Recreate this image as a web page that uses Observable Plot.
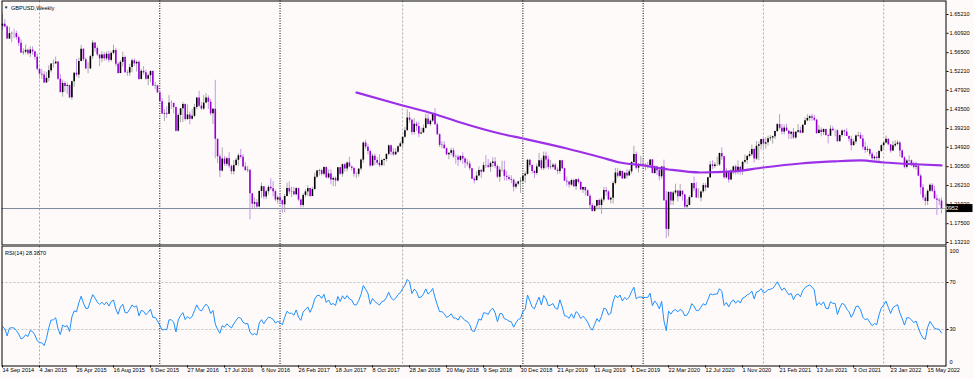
<!DOCTYPE html>
<html>
<head>
<meta charset="utf-8">
<script src="https://cdn.jsdelivr.net/npm/d3@7"></script>
<script src="https://cdn.jsdelivr.net/npm/@observablehq/plot@0.6"></script>
<style>
html,body{margin:0;padding:0;background:#fffafa;}
#chart{position:relative;width:974px;height:379px;overflow:hidden;background:#fffafa;}
#price{position:absolute;left:0;top:0;}
#rsi{position:absolute;left:0;top:245px;}
svg{display:block;}
</style>
</head>
<body>
<div id="chart"><div id="price"></div><div id="rsi"></div></div>
<script>
// ---------- texts ----------
const symbolTitle = "GBPUSD,Weekly";
const rsiTitle = "RSI(14) 28.3870";
const firstWeek = "2014-09-14";

// ---------- weekly closes before the visible range (RSI warm-up only) ----------
const preCloses = [1.6720,1.6630,1.6490,1.6635,1.6580,1.6745,1.6790,1.6810,1.6885,1.6825,1.6820,1.6835,1.6745,1.6795,1.6970,1.7015,1.7035,1.7155,1.7105,1.7085,1.6985,1.6835,1.6790,1.6695,1.6565,1.6600,1.6320,1.6255];

// ---------- weekly closes, 14 Sep 2014 ... 26 Jun 2022 ----------
const closes = [
1.6300,1.6236,1.5960,1.6085,1.6090,1.6085,1.5995,1.5865,1.5645,1.5660,
1.5705,1.5625,1.5710,1.5670,1.5545,1.5270,1.5160,1.5140,1.4960,1.5065,
1.5240,1.5390,1.5395,1.5435,1.5045,1.4740,1.4950,1.4880,1.4900,1.4620,
1.4990,1.5180,1.5140,1.5450,1.5730,1.5490,1.5280,1.5280,1.5560,1.5870,
1.5745,1.5600,1.5510,1.5600,1.5510,1.5615,1.5475,1.5635,1.5700,1.5385,
1.5175,1.5430,1.5540,1.5195,1.5185,1.5310,1.5465,1.5395,1.5430,1.5040,
1.5225,1.5190,1.5045,1.5125,1.5220,1.4890,1.4895,1.4735,1.4530,1.4250,
1.4265,1.4245,1.4500,1.4495,1.4400,1.3860,1.4220,1.4370,1.4470,1.4125,
1.4230,1.4130,1.4200,1.4400,1.4615,1.4430,1.4365,1.4500,1.4615,1.4520,
1.4255,1.4360,1.3675,1.3275,1.2950,1.3225,1.3105,1.3230,1.3060,1.2935,
1.3075,1.3195,1.3300,1.3265,1.3045,1.2960,1.2970,1.2430,1.2195,1.2230,
1.2130,1.2485,1.2595,1.2360,1.2480,1.2580,1.2545,1.2480,1.2290,1.2340,
1.2275,1.2180,1.2370,1.2555,1.2475,1.2480,1.2410,1.2550,1.2290,1.2165,
1.2395,1.2475,1.2550,1.2370,1.2530,1.2810,1.2950,1.2960,1.2875,1.3030,
1.2795,1.2885,1.2745,1.2780,1.2725,1.3025,1.2880,1.3095,1.3000,1.3135,
1.3040,1.3010,1.2875,1.2875,1.2995,1.3200,1.3590,1.3495,1.3395,1.3065,
1.3290,1.3190,1.3130,1.3075,1.3190,1.3215,1.3330,1.3525,1.3380,1.3320,
1.3380,1.3505,1.3570,1.3720,1.3870,1.4160,1.4110,1.3830,1.4020,1.3965,
1.3795,1.3820,1.3925,1.4140,1.4010,1.4090,1.4240,1.4005,1.3780,1.3535,
1.3540,1.3460,1.3320,1.3355,1.3415,1.3270,1.3265,1.3195,1.3285,1.3225,
1.3135,1.3110,1.3005,1.2765,1.2730,1.2835,1.2965,1.2925,1.3075,1.3070,
1.3035,1.3120,1.3155,1.3055,1.2810,1.2970,1.2970,1.2830,1.2805,1.2760,
1.2740,1.2580,1.2650,1.2705,1.2720,1.2840,1.2875,1.3195,1.3075,1.2940,
1.2895,1.3045,1.3185,1.3005,1.3290,1.3205,1.3030,1.3040,1.3085,1.2970,
1.2940,1.3185,1.3005,1.2720,1.2700,1.2630,1.2735,1.2590,1.2750,1.2690,
1.2520,1.2575,1.2500,1.2375,1.2165,1.2030,1.2145,1.2280,1.2165,1.2290,
1.2505,1.2475,1.2290,1.2330,1.2665,1.2905,1.2830,1.2940,1.2770,1.2900,
1.2840,1.2935,1.3145,1.3330,1.3015,1.3075,1.3085,1.3065,1.3075,1.3075,
1.3205,1.2895,1.3045,1.2960,1.2820,1.3045,1.2275,1.1620,1.2460,1.2265,
1.2450,1.2495,1.2365,1.2490,1.2405,1.2130,1.2165,1.2345,1.2665,1.2545,
1.2335,1.2335,1.2475,1.2620,1.2565,1.2795,1.3090,1.3055,1.3090,1.3090,
1.3350,1.3275,1.2795,1.2920,1.2745,1.2945,1.3045,1.2920,1.3035,1.2945,
1.3150,1.3190,1.3285,1.3325,1.3440,1.3225,1.3515,1.3550,1.3670,1.3565,
1.3595,1.3685,1.3705,1.3735,1.3850,1.4010,1.3925,1.3840,1.3930,1.3860,
1.3790,1.3835,1.3705,1.3835,1.3870,1.3815,1.3995,1.4095,1.4150,1.4190,
1.4155,1.4110,1.3805,1.3880,1.3830,1.3900,1.3760,1.3745,1.3905,1.3870,
1.3870,1.3620,1.3760,1.3865,1.3840,1.3740,1.3675,1.3530,1.3615,1.3750,
1.3760,1.3680,1.3495,1.3420,1.3440,1.3335,1.3230,1.3265,1.3235,1.3395,
1.3530,1.3590,1.3675,1.3550,1.3405,1.3525,1.3560,1.3590,1.3405,1.3250,
1.3035,1.3180,1.3185,1.3115,1.3035,1.3060,1.2835,1.2570,1.2335,1.2255,
1.2490,1.2625,1.2490,1.2315,1.2285,1.2265,1.20952];

const highs = [
1.6525,1.6400,1.6270,1.6230,1.6120,1.6185,1.6140,1.6030,1.5945,1.5740,
1.5825,1.5730,1.5785,1.5785,1.5680,1.5620,1.5300,1.5270,1.5220,1.5200,
1.5350,1.5400,1.5485,1.5550,1.5445,1.5160,1.5025,1.4990,1.4955,1.4915,
1.5000,1.5200,1.5500,1.5525,1.5815,1.5735,1.5530,1.5420,1.5590,1.5930,
1.5880,1.5790,1.5600,1.5675,1.5650,1.5670,1.5690,1.5670,1.5820,1.5750,
1.5420,1.5470,1.5660,1.5575,1.5245,1.5385,1.5505,1.5510,1.5465,1.5460,
1.5270,1.5335,1.5250,1.5160,1.5240,1.5240,1.4970,1.4905,1.4760,1.4610,
1.4350,1.4415,1.4670,1.4560,1.4500,1.4410,1.4255,1.4380,1.4515,1.4475,
1.4460,1.4300,1.4350,1.4470,1.4630,1.4770,1.4520,1.4670,1.4715,1.4665,
1.4590,1.4375,1.5020,1.3680,1.3330,1.3480,1.3285,1.3265,1.3370,1.3085,
1.3190,1.3240,1.3345,1.3445,1.3325,1.3140,1.3055,1.2975,1.2440,1.2335,
1.2300,1.2510,1.2675,1.2600,1.2520,1.2615,1.2775,1.2705,1.2515,1.2375,
1.2430,1.2290,1.2415,1.2675,1.2705,1.2580,1.2580,1.2570,1.2560,1.2310,
1.2435,1.2525,1.2615,1.2560,1.2580,1.2905,1.2965,1.2990,1.2990,1.3050,
1.3045,1.2975,1.2980,1.2815,1.2815,1.3030,1.3030,1.3115,1.3125,1.3160,
1.3265,1.3070,1.3040,1.2920,1.3000,1.3225,1.3615,1.3655,1.3550,1.3425,
1.3340,1.3335,1.3255,1.3320,1.3225,1.3230,1.3345,1.3550,1.3540,1.3460,
1.3460,1.3525,1.3615,1.3745,1.3945,1.4345,1.4285,1.4130,1.4145,1.4070,
1.4065,1.3930,1.4000,1.4245,1.4245,1.4120,1.4265,1.4375,1.4050,1.3800,
1.3620,1.3620,1.3480,1.3360,1.3470,1.3470,1.3315,1.3315,1.3290,1.3365,
1.3260,1.3215,1.3175,1.3010,1.2810,1.2935,1.3045,1.2985,1.3145,1.3300,
1.3215,1.3160,1.3255,1.3255,1.3090,1.3040,1.3175,1.3175,1.2935,1.2850,
1.2840,1.2770,1.2700,1.2715,1.2800,1.2865,1.2930,1.3220,1.3215,1.3095,
1.2965,1.3110,1.3350,1.3240,1.3380,1.3385,1.3290,1.3195,1.3125,1.3125,
1.3025,1.3195,1.3195,1.3020,1.2815,1.2715,1.2765,1.2765,1.2760,1.2785,
1.2720,1.2585,1.2580,1.2525,1.2415,1.2210,1.2160,1.2285,1.2310,1.2340,
1.2580,1.2580,1.2500,1.2360,1.2710,1.3010,1.3010,1.2975,1.2950,1.2920,
1.2985,1.2985,1.3165,1.3515,1.3385,1.3120,1.3285,1.3215,1.3120,1.3150,
1.3210,1.3215,1.3070,1.3065,1.3000,1.3050,1.3200,1.2485,1.2485,1.2485,
1.2485,1.2650,1.2510,1.2645,1.2500,1.2410,1.2295,1.2385,1.2670,1.2815,
1.2690,1.2545,1.2500,1.2670,1.2665,1.2810,1.3170,1.3185,1.3145,1.3265,
1.3365,1.3480,1.3285,1.3005,1.2950,1.2980,1.3065,1.3085,1.3180,1.3060,
1.3175,1.3315,1.3310,1.3400,1.3540,1.3470,1.3625,1.3615,1.3675,1.3705,
1.3710,1.3745,1.3760,1.3745,1.3865,1.4035,1.4240,1.4015,1.4000,1.4015,
1.3885,1.3850,1.3920,1.3850,1.4010,1.3950,1.4005,1.4165,1.4235,1.4220,
1.4250,1.4220,1.4135,1.3985,1.3935,1.3910,1.3910,1.3790,1.3985,1.3960,
1.3890,1.3890,1.3775,1.3890,1.3890,1.3915,1.3750,1.3745,1.3675,1.3775,
1.3835,1.3825,1.3765,1.3610,1.3515,1.3460,1.3375,1.3300,1.3375,1.3420,
1.3550,1.3600,1.3750,1.3685,1.3555,1.3630,1.3640,1.3645,1.3625,1.3440,
1.3280,1.3215,1.3300,1.3200,1.3150,1.3150,1.3095,1.2875,1.2640,1.2405,
1.2525,1.2655,1.2665,1.2600,1.2405,1.2325,1.2335];

const lows = [
1.6162,1.6220,1.5950,1.5950,1.5875,1.5975,1.5940,1.5790,1.5630,1.5590,
1.5620,1.5590,1.5540,1.5590,1.5485,1.5230,1.5035,1.5040,1.4950,1.4950,
1.4985,1.5190,1.5300,1.5390,1.5020,1.4730,1.4635,1.4750,1.4700,1.4600,
1.4565,1.4860,1.5090,1.5060,1.5440,1.5445,1.5265,1.5170,1.5265,1.5500,
1.5660,1.5560,1.5330,1.5420,1.5455,1.5460,1.5420,1.5440,1.5600,1.5330,
1.5160,1.5170,1.5325,1.5185,1.5110,1.5110,1.5195,1.5335,1.5210,1.5020,
1.5030,1.5140,1.5020,1.4895,1.4970,1.4880,1.4805,1.4710,1.4520,1.4240,
1.4080,1.4150,1.4240,1.4355,1.4255,1.3835,1.3835,1.4055,1.4055,1.4090,
1.4110,1.4005,1.4115,1.4165,1.4350,1.4400,1.4330,1.4330,1.4485,1.4355,
1.4210,1.4010,1.3230,1.3120,1.2800,1.2930,1.3060,1.3050,1.3010,1.2865,
1.2860,1.3055,1.3065,1.3225,1.3030,1.2945,1.2915,1.1840,1.2085,1.2085,
1.2080,1.2110,1.2330,1.2300,1.2300,1.2400,1.2510,1.2360,1.2250,1.2200,
1.2200,1.1985,1.2000,1.2360,1.2410,1.2345,1.2385,1.2385,1.2255,1.2110,
1.2110,1.2340,1.2375,1.2345,1.2365,1.2510,1.2775,1.2840,1.2840,1.2840,
1.2775,1.2770,1.2635,1.2590,1.2590,1.2700,1.2845,1.2810,1.2930,1.2930,
1.3035,1.2950,1.2810,1.2775,1.2810,1.2950,1.3125,1.3445,1.3320,1.3030,
1.3060,1.3075,1.3080,1.3035,1.3040,1.3060,1.3165,1.3300,1.3300,1.3285,
1.3300,1.3350,1.3485,1.3460,1.3690,1.3865,1.4040,1.3765,1.3770,1.3855,
1.3710,1.3780,1.3810,1.3910,1.4000,1.3965,1.4055,1.3990,1.3760,1.3485,
1.3460,1.3450,1.3300,1.3205,1.3300,1.3240,1.3105,1.3050,1.3150,1.3100,
1.3010,1.3050,1.2955,1.2760,1.2660,1.2730,1.2820,1.2785,1.2920,1.3010,
1.3010,1.2920,1.3030,1.3005,1.2780,1.2695,1.2930,1.2725,1.2725,1.2725,
1.2660,1.2475,1.2535,1.2605,1.2440,1.2675,1.2670,1.2855,1.3030,1.2885,
1.2775,1.2855,1.3030,1.2960,1.2960,1.3000,1.2975,1.2980,1.3000,1.2960,
1.2865,1.2880,1.2980,1.2715,1.2605,1.2560,1.2600,1.2580,1.2505,1.2655,
1.2505,1.2440,1.2380,1.2370,1.2080,1.2015,1.2015,1.2065,1.2070,1.1960,
1.2235,1.2380,1.2275,1.2205,1.2195,1.2635,1.2780,1.2800,1.2765,1.2770,
1.2770,1.2825,1.2880,1.3115,1.2975,1.2905,1.3050,1.3010,1.2955,1.3000,
1.3010,1.2885,1.2875,1.2850,1.2725,1.2760,1.2260,1.1410,1.1450,1.2165,
1.2165,1.2405,1.2245,1.2365,1.2265,1.2075,1.2075,1.2160,1.2335,1.2480,
1.2330,1.2320,1.2250,1.2440,1.2480,1.2555,1.2780,1.2980,1.3005,1.3055,
1.3055,1.3195,1.2760,1.2765,1.2675,1.2735,1.2865,1.2860,1.2865,1.2855,
1.2855,1.3110,1.3105,1.3250,1.3280,1.3135,1.3190,1.3190,1.3430,1.3450,
1.3450,1.3520,1.3625,1.3565,1.3670,1.3835,1.3890,1.3775,1.3775,1.3850,
1.3670,1.3670,1.3670,1.3675,1.3810,1.3800,1.3800,1.3990,1.4075,1.4085,
1.4085,1.4075,1.3790,1.3790,1.3730,1.3760,1.3745,1.3570,1.3740,1.3860,
1.3730,1.3600,1.3620,1.3725,1.3740,1.3735,1.3610,1.3410,1.3520,1.3565,
1.3720,1.3670,1.3425,1.3355,1.3375,1.3280,1.3190,1.3160,1.3170,1.3170,
1.3370,1.3430,1.3570,1.3525,1.3360,1.3390,1.3490,1.3530,1.3270,1.3235,
1.3000,1.3000,1.3135,1.3050,1.3000,1.2975,1.2820,1.2410,1.2275,1.2155,
1.2165,1.2460,1.2460,1.2305,1.1935,1.2160,1.1975];

// ---------- moving average: week index, value ----------
const maWeek  = [153,173,186,198,215,225,244,259,267,277,288,302,316,329,345,359,371,381,397,406];
const maValue = [1.4742,1.4446,1.4263,1.4058,1.3807,1.3693,1.3465,1.3260,1.3146,1.3078,1.2986,1.2918,1.2941,1.3032,1.3123,1.3169,1.3192,1.3146,1.3100,1.3078];

// ---------- axes ----------
const priceTicks = ["1.65210","1.60920","1.56500","1.52210","1.47920","1.43500","1.39210","1.34920","1.30500","1.26210","1.21920","1.17500","1.13210"];
const xTickLabels = ["14 Sep 2014","4 Jan 2015","26 Apr 2015","16 Aug 2015","6 Dec 2015","27 Mar 2016","17 Jul 2016","6 Nov 2016","26 Feb 2017","18 Jun 2017","8 Oct 2017","28 Jan 2018","20 May 2018","9 Sep 2018","30 Dec 2018","21 Apr 2019","11 Aug 2019","1 Dec 2019","22 Mar 2020","12 Jul 2020","1 Nov 2020","21 Feb 2021","13 Jun 2021","3 Oct 2021","23 Jan 2022","15 May 2022"];
const rsiLevels = [70, 30];
const rsiTop = [100];
const rsiBottom = [0];
const yearStartsDark  = ["2016-01-03","2017-01-01","2019-01-06","2020-01-05"];
const yearStartsLight = ["2015-01-04","2018-01-07","2021-01-03","2022-01-02"];

// ---------- styling ----------
const FONT = "'Liberation Sans', Arial, sans-serif";
const FS = 5.6;
const BG = "#fffafa";
const BULL = "#000000", BULL_WICK = "#a8a8a8";
const BEAR = "#9400d3", BEAR_WICK = "#c596e8";
const MA_COLOR = "#9b30e8";
const RSI_COLOR = "#1e90ff";

// ---------- derived ----------
const parseISO = d3.utcParse("%Y-%m-%d");
const parseTick = d3.utcParse("%d %b %Y");
const t0 = parseISO(firstWeek);
const weekDate = i => d3.utcDay.offset(t0, 7 * i);

const bars = closes.map((c, i) => {
  const open = i === 0 ? preCloses[preCloses.length - 1] : closes[i - 1];
  return {date: weekDate(i), open, close: c,
          high: Math.max(highs[i], open, c), low: Math.min(lows[i], open, c), up: c >= open};
});
const lastClose = closes[closes.length - 1];

// RSI(14), Wilder smoothing
const all = preCloses.concat(closes);
let ag = 0, al = 0;
for (let k = 1; k <= 14; k++) { const d = all[k] - all[k - 1]; if (d > 0) ag += d; else al -= d; }
ag /= 14; al /= 14;
const rsiAll = new Array(all.length).fill(null);
rsiAll[14] = 100 - 100 / (1 + ag / al);
for (let k = 15; k < all.length; k++) {
  const d = all[k] - all[k - 1];
  ag = (ag * 13 + Math.max(d, 0)) / 14;
  al = (al * 13 + Math.max(-d, 0)) / 14;
  rsiAll[k] = 100 - 100 / (1 + ag / al);
}
const rsiData = closes.map((_, i) => ({date: weekDate(i), v: rsiAll[i + preCloses.length]}));
const maData = maWeek.map((w, i) => ({date: weekDate(w), v: maValue[i]}));

const xDomain = [weekDate(0), weekDate(closes.length - 1)];
const xRange = [2, 941];
const yDomain = [1.1321, 1.6521];
const yRange = [242, 14];
const style = {background: BG, fontFamily: FONT, fontSize: FS + "px", color: "#000", overflow: "visible"};

const sepMarks = () => [
  Plot.ruleX(yearStartsLight.map(parseISO), {stroke: "#a9a9a9", strokeDasharray: "2,2"}),
  Plot.ruleX(yearStartsDark.map(parseISO), {stroke: "#000", strokeDasharray: "1,1.5"})
];

// ---------- price panel ----------
const priceSvg = Plot.plot({
  width: 974, height: 245,
  marginTop: 0.5, marginBottom: 0.5, marginLeft: 1.5, marginRight: 28.5,
  style,
  x: {type: "utc", domain: xDomain, range: xRange, axis: null},
  y: {domain: yDomain, range: yRange},
  marks: [
    ...sepMarks(),
    Plot.ruleY([lastClose], {stroke: "#778899"}),
    Plot.ruleX(bars, {x: "date", y1: "low", y2: "high", stroke: d => d.up ? BULL_WICK : BEAR_WICK, strokeWidth: 1}),
    Plot.ruleX(bars, {x: "date", y1: "open", y2: "close", stroke: d => d.up ? BULL : BEAR, strokeWidth: 1.6}),
    Plot.line(maData, {x: "date", y: "v", stroke: MA_COLOR, strokeWidth: 2.2, curve: "monotone-x"}),
    Plot.frame({stroke: "#000"}),
    Plot.axisY(priceTicks.map(Number), {anchor: "right", tickSize: 2, tickPadding: 1.5, fontSize: FS, tickFormat: d => d.toFixed(5), label: null}),
    Plot.text(["▼"], {frameAnchor: "top-left", dx: 2, dy: 5.5, textAnchor: "start", fontSize: 4.2, fill: "#000"}),
    Plot.text([symbolTitle], {frameAnchor: "top-left", dx: 9, dy: 5.5, textAnchor: "start", fontSize: FS, fill: "#000"})
  ]
});
// current price tag on the right axis
{
  const yS = d3.scaleLinear(yDomain, yRange);
  const py = yS(lastClose);
  const g = d3.select(priceSvg).append("g");
  g.append("rect").attr("x", 974 - 28.5 + 1).attr("y", py - 4).attr("width", 26).attr("height", 8).attr("fill", "#000");
  g.append("text").attr("x", 974 - 28.5 + 2.5).attr("y", py).attr("dy", "0.35em")
    .attr("fill", "#fff").attr("font-size", FS).attr("font-family", FONT).text(lastClose.toFixed(5));
}
document.getElementById("price").appendChild(priceSvg);

// ---------- RSI panel ----------
const rsiSvg = Plot.plot({
  width: 974, height: 134,
  marginTop: 0.5, marginBottom: 13.5, marginLeft: 1.5, marginRight: 28.5,
  style,
  x: {type: "utc", domain: xDomain, range: xRange},
  y: {domain: [0, 100], range: [119.25, 1.75]},
  marks: [
    Plot.ruleY(rsiLevels, {stroke: "#c0c0c0", strokeDasharray: "2,2"}),
    ...sepMarks(),
    Plot.line(rsiData, {x: "date", y: "v", stroke: RSI_COLOR, strokeWidth: 1}),
    Plot.frame({stroke: "#000"}),
    Plot.axisX(xTickLabels.map(s => parseTick(s)), {anchor: "bottom", tickSize: 2, tickPadding: 0.5, textAnchor: "start", fontSize: FS, tickFormat: d3.utcFormat("%-d %b %Y"), label: null}),
    Plot.axisY(rsiLevels, {anchor: "right", tickSize: 2, tickPadding: 1.5, fontSize: FS, label: null}),
    Plot.text(rsiTop, {y: d => d, text: d => String(d), frameAnchor: "right", dx: 3.5, dy: 3.5, textAnchor: "start", fontSize: FS, fill: "#000"}),
    Plot.text(rsiBottom, {y: d => d, text: d => String(d), frameAnchor: "right", dx: 3.5, dy: -3, textAnchor: "start", fontSize: FS, fill: "#000"}),
    Plot.text([rsiTitle], {frameAnchor: "top-left", dx: 3, dy: 5, textAnchor: "start", fontSize: FS, fill: "#000"})
  ]
});
document.getElementById("rsi").appendChild(rsiSvg);
</script>
</body>
</html>
